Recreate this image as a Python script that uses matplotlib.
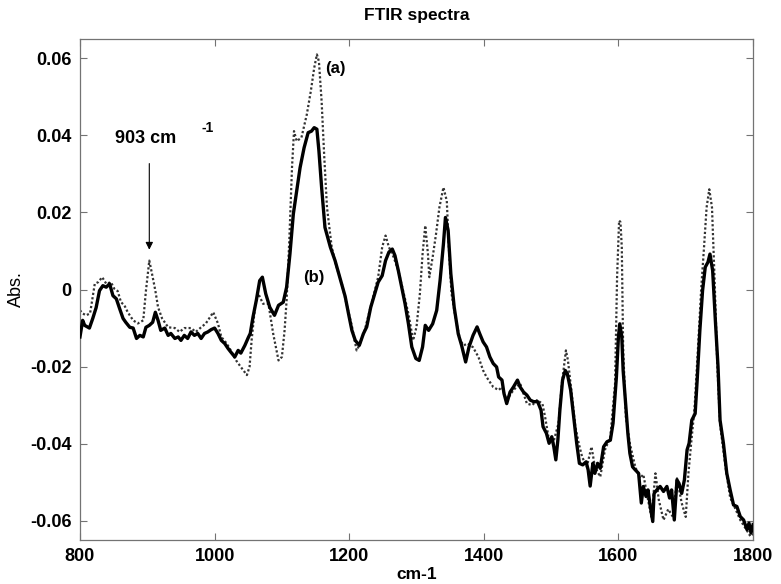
import matplotlib
matplotlib.use('Agg')
import matplotlib.pyplot as plt

# 字体设置（Arial 风格的粗体）
plt.rcParams['font.family'] = ['Liberation Sans', 'DejaVu Sans']
plt.rcParams['axes.unicode_minus'] = False

# (a) 虚线谱
wn_a = [800, 804, 809, 815, 822, 827, 833, 839, 846, 851, 856, 861, 866, 871, 879, 886, 894, 898,
        903, 907, 912, 916, 922, 931, 941, 948, 955, 965, 972, 980, 987, 995, 998, 1005, 1010, 1018,
        1024, 1032, 1039, 1048, 1052, 1055, 1060, 1065, 1072, 1080, 1087, 1095, 1100, 1104, 1107,
        1111, 1115, 1118, 1122, 1129, 1137, 1143, 1148, 1152, 1155, 1159, 1163, 1167, 1174, 1180,
        1189, 1196, 1204, 1211, 1215, 1223, 1233, 1243, 1249, 1254, 1259, 1266, 1273, 1281, 1288,
        1295, 1300, 1305, 1309, 1313, 1317, 1319, 1324, 1329, 1334, 1340, 1345, 1348, 1352, 1359,
        1365, 1370, 1376, 1384, 1392, 1399, 1404, 1414, 1422, 1427, 1434, 1444, 1454, 1464, 1472,
        1479, 1487, 1491, 1496, 1503, 1511, 1516, 1522, 1525, 1530, 1536, 1541, 1546, 1553, 1560,
        1565, 1573, 1580, 1588, 1595, 1598, 1601, 1603, 1605, 1607, 1611, 1617, 1625, 1632, 1637,
        1644, 1649, 1655, 1660, 1667, 1674, 1681, 1687, 1694, 1700, 1704, 1708, 1713, 1718, 1723,
        1727, 1731, 1735, 1739, 1743, 1747, 1751, 1759, 1766, 1774, 1781, 1789, 1796, 1800]
abs_a = [-0.0054, -0.0062, -0.0067, -0.0062, 0.0015, 0.0019, 0.0032, 0.0015, 0.0019, 0.0002,
         -0.0004, -0.0033, -0.0041, -0.0059, -0.0080, -0.0088, -0.0080, -0.0003, 0.0075, 0.0041,
         -0.0003, -0.0046, -0.0075, -0.0098, -0.0100, -0.0110, -0.0100, -0.0100, -0.0110, -0.0098,
         -0.0088, -0.0067, -0.0059, -0.0088, -0.0123, -0.0140, -0.0158, -0.0184, -0.0201, -0.0222,
         -0.0200, -0.0132, -0.0046, -0.0011, -0.0037, -0.0037, -0.0114, -0.0184, -0.0175, -0.0106,
         -0.0028, 0.0127, 0.0316, 0.0411, 0.0385, 0.0394, 0.0454, 0.0515, 0.0575, 0.0610, 0.0592,
         0.0489, 0.0342, 0.0213, 0.0110, 0.0066, 0.0015, -0.0037, -0.0095, -0.0158, -0.0145,
         -0.0106, -0.0037, 0.0032, 0.0110, 0.0140, 0.0110, 0.0084, 0.0049, -0.0010, -0.0063,
         -0.0132, -0.0097, -0.0011, 0.0092, 0.0166, 0.0092, 0.0032, 0.0084, 0.0144, 0.0213, 0.0265,
         0.0230, 0.0110, -0.0010, -0.0084, -0.0132, -0.0145, -0.0140, -0.0150, -0.0175, -0.0210,
         -0.0227, -0.0253, -0.0261, -0.0253, -0.0287, -0.0261, -0.0244, -0.0296, -0.0300, -0.0287,
         -0.0296, -0.0330, -0.0382, -0.0399, -0.0347, -0.0244, -0.0158, -0.0184, -0.0261, -0.0356,
         -0.0399, -0.0434, -0.0460, -0.0408, -0.0460, -0.0486, -0.0416, -0.0382, -0.0244, 0.0032,
         0.0179, 0.0175, 0.0110, -0.0150, -0.0330, -0.0400, -0.0460, -0.0490, -0.0480, -0.0546,
         -0.0590, -0.0477, -0.0546, -0.0598, -0.0570, -0.0590, -0.0490, -0.0554, -0.0590, -0.0477,
         -0.0400, -0.0310, -0.0158, 0.0003, 0.0105, 0.0213, 0.0260, 0.0213, 0.0020, -0.0200,
         -0.0350, -0.0460, -0.0540, -0.0570, -0.0598, -0.0620, -0.0640, -0.0635]

# (b) 实线谱
wn_b = [800, 804, 807, 814, 819, 824, 829, 834, 839, 844, 849, 854, 859, 864, 868, 874, 879, 884,
        889, 894, 898, 903, 908, 912, 916, 920, 926, 931, 935, 941, 946, 950, 955, 960, 965, 970,
        975, 980, 985, 990, 995, 1000, 1005, 1010, 1015, 1020, 1024, 1030, 1035, 1039, 1045, 1050,
        1053, 1057, 1062, 1067, 1071, 1076, 1082, 1089, 1095, 1102, 1107, 1112, 1117, 1122, 1127,
        1133, 1139, 1144, 1148, 1152, 1155, 1159, 1164, 1172, 1179, 1186, 1194, 1199, 1204, 1209,
        1215, 1221, 1226, 1232, 1238, 1243, 1249, 1254, 1259, 1264, 1268, 1273, 1278, 1283, 1288,
        1293, 1299, 1304, 1309, 1313, 1318, 1324, 1330, 1335, 1340, 1343, 1347, 1351, 1356, 1362,
        1367, 1373, 1378, 1384, 1390, 1394, 1399, 1404, 1409, 1414, 1419, 1422, 1427, 1430, 1434,
        1439, 1444, 1450, 1454, 1459, 1464, 1469, 1474, 1480, 1485, 1488, 1493, 1497, 1501, 1504,
        1507, 1510, 1513, 1517, 1521, 1524, 1529, 1533, 1538, 1542, 1547, 1552, 1555, 1558, 1562,
        1565, 1569, 1573, 1578, 1583, 1588, 1592, 1597, 1600, 1602, 1605, 1607, 1611, 1614, 1617,
        1621, 1625, 1630, 1634, 1637, 1641, 1644, 1647, 1651, 1653, 1657, 1662, 1667, 1672, 1676,
        1679, 1683, 1687, 1690, 1694, 1698, 1702, 1705, 1709, 1714, 1717, 1721, 1725, 1729, 1733,
        1736, 1740, 1744, 1748, 1751, 1756, 1761, 1766, 1771, 1776, 1781, 1786, 1791, 1794, 1797,
        1800]
abs_b = [-0.0123, -0.0080, -0.0093, -0.0100, -0.0075, -0.0047, -0.0003, 0.0010, 0.0006, 0.0015,
         -0.0016, -0.0024, -0.0050, -0.0075, -0.0085, -0.0098, -0.0100, -0.0127, -0.0119, -0.0123,
         -0.0098, -0.0093, -0.0085, -0.0059, -0.0080, -0.0106, -0.0100, -0.0119, -0.0114, -0.0127,
         -0.0123, -0.0132, -0.0119, -0.0127, -0.0110, -0.0119, -0.0114, -0.0127, -0.0114, -0.0110,
         -0.0104, -0.0100, -0.0114, -0.0132, -0.0140, -0.0153, -0.0162, -0.0175, -0.0158, -0.0165,
         -0.0145, -0.0125, -0.0114, -0.0072, -0.0028, 0.0023, 0.0032, -0.0011, -0.0046, -0.0067,
         -0.0041, -0.0033, 0.0006, 0.0093, 0.0196, 0.0256, 0.0316, 0.0368, 0.0407, 0.0411, 0.0420,
         0.0416, 0.0360, 0.0265, 0.0161, 0.0110, 0.0075, 0.0032, -0.0018, -0.0063, -0.0106,
         -0.0132, -0.0145, -0.0115, -0.0097, -0.0046, -0.0011, 0.0019, 0.0036, 0.0075, 0.0097,
         0.0105, 0.0088, 0.0049, 0.0006, -0.0037, -0.0089, -0.0149, -0.0179, -0.0184, -0.0149,
         -0.0093, -0.0106, -0.0089, -0.0054, 0.0023, 0.0118, 0.0187, 0.0153, 0.0041, -0.0046,
         -0.0115, -0.0145, -0.0188, -0.0149, -0.0119, -0.0097, -0.0115, -0.0136, -0.0149, -0.0175,
         -0.0192, -0.0201, -0.0227, -0.0235, -0.0270, -0.0296, -0.0266, -0.0253, -0.0235, -0.0253,
         -0.0266, -0.0274, -0.0287, -0.0291, -0.0291, -0.0313, -0.0356, -0.0373, -0.0399, -0.0382,
         -0.0408, -0.0442, -0.0391, -0.0313, -0.0235, -0.0210, -0.0218, -0.0261, -0.0322, -0.0399,
         -0.0451, -0.0455, -0.0447, -0.0468, -0.0510, -0.0451, -0.0477, -0.0451, -0.0464, -0.0408,
         -0.0395, -0.0391, -0.0347, -0.0227, -0.0123, -0.0089, -0.0123, -0.0210, -0.0304, -0.0373,
         -0.0425, -0.0460, -0.0468, -0.0477, -0.0554, -0.0511, -0.0537, -0.0520, -0.0559, -0.0602,
         -0.0529, -0.0520, -0.0511, -0.0524, -0.0511, -0.0541, -0.0520, -0.0598, -0.0494, -0.0503,
         -0.0529, -0.0494, -0.0416, -0.0399, -0.0339, -0.0322, -0.0235, -0.0106, -0.0003, 0.0058,
         0.0071, 0.0092, 0.0049, -0.0080, -0.0201, -0.0339, -0.0399, -0.0477, -0.0520, -0.0559,
         -0.0563, -0.0589, -0.0598, -0.0623, -0.0606, -0.0632, -0.0610]

xticks = [800, 1000, 1200, 1400, 1600, 1800]
yticks = [-0.06, -0.04, -0.02, 0, 0.02, 0.04, 0.06]
ytick_labels = ['-0.06', '-0.04', '-0.02', '0', '0.02', '0.04', '0.06']

fig = plt.figure(figsize=(7.81, 5.84), dpi=100)
ax = fig.add_axes([0.1024, 0.0753, 0.8618, 0.8579])

ax.plot(wn_a, abs_a, linestyle=(0, (1, 1)), color='0.2', linewidth=1.6, zorder=2)
ax.plot(wn_b, abs_b, linestyle='-', color='black', linewidth=2.4, zorder=3)

ax.set_xlim(800, 1800)
ax.set_ylim(-0.065, 0.065)
ax.set_xticks(xticks)
ax.set_xticklabels([str(t) for t in xticks])
ax.set_yticks(yticks)
ax.set_yticklabels(ytick_labels)

# 刻度朝内，四边都有
ax.tick_params(direction='in', top=True, right=True, length=5, width=0.8,
               color='0.45', labelsize=13, pad=6)
for lab in ax.get_xticklabels() + ax.get_yticklabels():
    lab.set_fontweight('bold')
for sp in ax.spines.values():
    sp.set_color('0.45')
    sp.set_linewidth(0.9)

ax.set_title('FTIR spectra', fontsize=12.5, fontweight='bold', pad=14)
ax.set_xlabel('cm-1', fontsize=12.5, fontweight='bold', labelpad=1)
ax.set_ylabel('Abs.', fontsize=13, labelpad=4)

# 标注
ax.annotate('', xy=(903, 0.0096), xytext=(903, 0.0334),
            arrowprops=dict(arrowstyle='-|>', color='black', lw=0.8, mutation_scale=11))
ax.text(897, 0.0393, '903 cm', ha='center', va='center', fontsize=13, fontweight='bold')
ax.text(989, 0.0420, '-1', ha='center', va='center', fontsize=10, fontweight='bold')
ax.text(1180, 0.0574, '(a)', ha='center', va='center', fontsize=12, fontweight='bold')
ax.text(1148, 0.0030, '(b)', ha='center', va='center', fontsize=12, fontweight='bold')

plt.savefig('out.png', dpi=100, facecolor='white')
